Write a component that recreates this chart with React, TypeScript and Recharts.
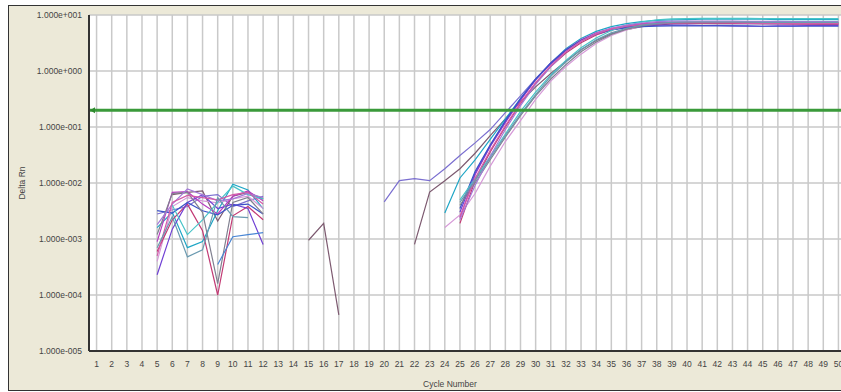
import React from 'react';
import { LineChart, Line, XAxis, YAxis, CartesianGrid, ReferenceLine } from 'recharts';

const cycles = [
  1, 2, 3, 4, 5, 6, 7, 8, 9, 10, 11, 12, 13, 14, 15, 16, 17, 18, 19, 20, 21, 22, 23, 24, 25,
  26, 27, 28, 29, 30, 31, 32, 33, 34, 35, 36, 37, 38, 39, 40, 41, 42, 43, 44, 45, 46, 47, 48, 49, 50,
];
const yTicks = [0.00001, 0.0001, 0.001, 0.01, 0.1, 1, 10];
const threshold = 0.2;

// early noise, cycles 5-12
const noiseA = [0.0028, 0.0033, 0.0038, 0.0058, 0.0062, 0.0038, 0.0048, 0.0058];
const noiseB = [null, 0.0062, 0.0068, 0.0072, 0.0021, 0.0058, 0.0068, 0.0052];
const noiseC = [0.0016, 0.003, 0.0007, 0.0009, 0.0032, 0.0095, 0.0075, 0.0035];
const noiseD = [0.0004, 0.0038, 0.0055, 0.0048, 0.0044, 0.0052, 0.0058, 0.0035];
const noiseE = [0.0006, 0.0022, 0.0042, 0.0014, 0.0001, 0.0026, 0.0038, 0.0022];
const noiseF = [0.0009, 0.0068, 0.007, 0.0042, 0.0028, 0.0058, 0.0072, 0.0048];
const noiseG = [0.00023, 0.0015, 0.0045, 0.0062, 0.0035, 0.0042, 0.0035, 0.0008];
const noiseH = [0.0032, 0.0029, 0.0045, 0.0032, 0.0027, 0.004, 0.0042, 0.0028];
const noiseI = [null, 0.004, 0.0012, 0.0022, 0.0045, 0.0088, 0.0062, 0.0052];
const noiseJ = [0.0012, 0.0065, 0.0068, 0.003, 0.00016, 0.0045, 0.0055, 0.0028];
const noiseK = [0.0018, 0.0042, 0.0078, 0.0062, 0.0048, 0.0052, 0.0065, 0.0055];
const noiseL = [0.0005, 0.0045, 0.006, 0.0055, 0.005, 0.0062, 0.0068, 0.0042];
const noiseM = [0.0007, 0.0025, 0.00048, 0.00064, 0.0055, 0.0025, 0.0024, null];
const noiseN = [null, null, null, null, 0.00035, 0.0011, 0.0012, 0.0013];

// odd fragment of well B, cycles 15-17
const fragB = [0.00095, 0.0019, 0.000044];

// amplification, well A from cycle 20, B from 22, C/D from 24, the rest from 25
const ampA = [
  0.0046, 0.011, 0.012, 0.011, 0.018, 0.031, 0.052, 0.09, 0.18, 0.36, 0.72, 1.35, 2.3, 3.4, 4.6,
  5.6, 6.3, 6.8, 7.0, 7.1, 7.1, 7.1, 7.0, 7.0, 7.0, 7.0, 6.9, 6.9, 6.9, 6.8, 6.8,
];
const ampB = [
  0.0008, 0.0069, 0.011, 0.018, 0.034, 0.07, 0.14, 0.28, 0.52, 0.9, 1.5, 2.4, 3.5, 4.6, 5.5, 6.2,
  6.6, 6.9, 7.0, 7.0, 7.0, 7.0, 7.0, 7.0, 7.0, 7.0, 6.9, 6.9, 6.9,
];
const ampC = [
  0.0029, 0.0123, 0.026, 0.06, 0.14, 0.32, 0.7, 1.4, 2.5, 3.8, 5.1, 6.2, 7.0, 7.6, 8.0, 8.2, 8.3,
  8.4, 8.4, 8.4, 8.4, 8.4, 8.3, 8.3, 8.3, 8.3, 8.3,
];
const ampD = [
  0.0016, 0.0027, 0.0065, 0.02, 0.055, 0.13, 0.31, 0.66, 1.2, 2.0, 3.1, 4.3, 5.4, 6.3, 6.9, 7.3,
  7.5, 7.5, 7.5, 7.5, 7.5, 7.4, 7.4, 7.4, 7.4, 7.3, 7.3,
];
const ampE = [
  0.0019, 0.011, 0.036, 0.1, 0.26, 0.6, 1.2, 2.1, 3.2, 4.4, 5.4, 6.1, 6.6, 6.9, 7.1, 7.2, 7.2,
  7.2, 7.1, 7.1, 7.0, 7.0, 6.9, 6.9, 6.9, 6.9,
];
const ampF = [
  0.0024, 0.014, 0.045, 0.12, 0.3, 0.7, 1.4, 2.4, 3.6, 4.8, 5.8, 6.5, 7.0, 7.3, 7.4, 7.4, 7.4,
  7.4, 7.4, 7.3, 7.3, 7.3, 7.3, 7.2, 7.2, 7.2,
];
const ampG = [
  0.003, 0.015, 0.046, 0.125, 0.31, 0.7, 1.35, 2.3, 3.5, 4.6, 5.5, 6.1, 6.5, 6.6, 6.6, 6.6, 6.5,
  6.5, 6.4, 6.3, 6.3, 6.4, 6.4, 6.5, 6.5, 6.5,
];
const ampH = [
  0.0035, 0.016, 0.048, 0.13, 0.32, 0.72, 1.4, 2.4, 3.5, 4.6, 5.4, 5.9, 6.2, 6.3, 6.4, 6.4, 6.4,
  6.4, 6.4, 6.4, 6.3, 6.3, 6.3, 6.3, 6.3, 6.3,
];
const ampI = [
  0.005, 0.012, 0.03, 0.075, 0.19, 0.42, 0.85, 1.55, 2.6, 3.9, 5.3, 6.5, 7.5, 8.2, 8.5, 8.6, 8.7,
  8.7, 8.7, 8.7, 8.6, 8.6, 8.6, 8.6, 8.6, 8.6,
];
const ampJ = [
  0.004, 0.01, 0.026, 0.066, 0.16, 0.36, 0.72, 1.3, 2.2, 3.3, 4.5, 5.6, 6.4, 6.9, 7.2, 7.3, 7.4,
  7.4, 7.4, 7.4, 7.3, 7.3, 7.3, 7.3, 7.3, 7.3,
];
const ampK = [
  0.0022, 0.009, 0.03, 0.09, 0.24, 0.58, 1.2, 2.2, 3.4, 4.7, 5.8, 6.6, 7.2, 7.6, 7.8, 7.8, 7.8,
  7.8, 7.8, 7.7, 7.7, 7.7, 7.6, 7.6, 7.6, 7.6,
];
const ampL = [
  0.0025, 0.012, 0.038, 0.105, 0.27, 0.62, 1.25, 2.2, 3.4, 4.6, 5.6, 6.3, 6.8, 7.1, 7.2, 7.2, 7.2,
  7.2, 7.2, 7.1, 7.1, 7.1, 7.0, 7.0, 7.0, 7.0,
];
const ampM = [
  0.0045, 0.011, 0.028, 0.07, 0.17, 0.38, 0.8, 1.45, 2.4, 3.6, 4.8, 5.8, 6.6, 7.1, 7.4, 7.5, 7.5,
  7.5, 7.5, 7.5, 7.4, 7.4, 7.4, 7.4, 7.4, 7.4,
];

type Part = [number, (number | null)[]];
interface Well {
  key: string;
  color: string;
  parts: Part[];
}

const wells: Well[] = [
  { key: 'A', color: '#7b6fd0', parts: [[5, noiseA], [20, ampA]] },
  { key: 'B', color: '#7d5a70', parts: [[5, noiseB], [15, fragB], [22, ampB]] },
  { key: 'C', color: '#1fa6c6', parts: [[5, noiseC], [24, ampC]] },
  { key: 'D', color: '#d69ad8', parts: [[5, noiseD], [24, ampD]] },
  { key: 'E', color: '#c23a74', parts: [[5, noiseE], [25, ampE]] },
  { key: 'F', color: '#b83cc0', parts: [[5, noiseF], [25, ampF]] },
  { key: 'G', color: '#7040d4', parts: [[5, noiseG], [25, ampG]] },
  { key: 'H', color: '#3c52c8', parts: [[5, noiseH], [25, ampH]] },
  { key: 'I', color: '#48c4c8', parts: [[5, noiseI], [25, ampI]] },
  { key: 'J', color: '#808090', parts: [[5, noiseJ], [25, ampJ]] },
  { key: 'K', color: '#a47ad8', parts: [[5, noiseK], [25, ampK]] },
  { key: 'L', color: '#d45aa8', parts: [[5, noiseL], [25, ampL]] },
  { key: 'M', color: '#6a9ab0', parts: [[5, noiseM], [25, ampM]] },
  { key: 'N', color: '#4a86d4', parts: [[5, noiseN]] },
];

const rows = cycles.map((c) => {
  const row: Record<string, number | null> = { cycle: c };
  wells.forEach((w) => {
    row[w.key] = null;
    w.parts.forEach(([start, vals]) => {
      const i = c - start;
      if (i >= 0 && i < vals.length && vals[i] != null) row[w.key] = vals[i];
    });
  });
  return row;
});

const fmtExp = (v: number) => {
  const e = Math.round(Math.log10(v));
  return `1.000e${e < 0 ? '-' : '+'}${String(Math.abs(e)).padStart(3, '0')}`;
};

const FONT = '"Liberation Sans", Arial, sans-serif';

const XTick = ({ x, y, payload }: any) => (
  <text x={x} y={y + 13} textAnchor="middle" dominantBaseline="central" fontSize={8.5} fill="#444" fontFamily={FONT}>
    {payload.value}
  </text>
);

const YTick = ({ x, y, payload }: any) => (
  <text x={x - 7} y={y} textAnchor="end" dominantBaseline="central" fontSize={8.5} fill="#444" fontFamily={FONT}>
    {fmtExp(payload.value)}
  </text>
);

const ThresholdArrow = ({ viewBox }: any) => {
  const x = viewBox.x;
  const y = viewBox.y;
  return <path d={`M${x + 1},${y} L${x + 6},${y - 3} L${x + 6},${y + 3} Z`} fill="#2f8a2f" />;
};

export default function App() {
  return (
    <div style={{ position: 'absolute', left: 0, top: 0, width: 841, height: 392, overflow: 'hidden', background: '#fff' }}>
      <div
        style={{
          position: 'absolute',
          left: 8,
          top: 5,
          width: 850,
          height: 384,
          border: '1px solid #333',
          background: '#ECE9D8',
        }}
      />
      <div style={{ position: 'absolute', left: 0, top: 0 }}>
        <LineChart width={846} height={392} data={rows} margin={{ top: 15, right: 0, bottom: 0, left: 0 }}>
          <CartesianGrid stroke="#c9c9c9" strokeWidth={1.5} fill="#ffffff" />
          <XAxis
            dataKey="cycle"
            type="number"
            domain={[0.5, 50.5]}
            ticks={cycles}
            interval={0}
            height={41}
            tickSize={0}
            tickMargin={0}
            tickLine={false}
            axisLine={{ stroke: '#333', strokeWidth: 2 }}
            tick={<XTick />}
            label={() => (
              <text x={450} y={384} textAnchor="middle" dominantBaseline="central" fontSize={8.5} fill="#444" fontFamily={FONT}>
                Cycle Number
              </text>
            )}
          />
          <YAxis
            scale="log"
            domain={[0.00001, 10]}
            ticks={yTicks}
            interval={0}
            allowDataOverflow
            width={89}
            tickSize={0}
            tickMargin={0}
            tickLine={false}
            axisLine={{ stroke: '#333', strokeWidth: 2 }}
            tick={<YTick />}
            label={() => (
              <text
                x={22}
                y={183}
                transform="rotate(-90 22 183)"
                textAnchor="middle"
                dominantBaseline="central"
                fontSize={8.5}
                fill="#444"
                fontFamily={FONT}
              >
                Delta Rn
              </text>
            )}
          />
          {wells.map((w) => (
            <Line
              key={w.key}
              dataKey={w.key}
              stroke={w.color}
              strokeWidth={1.2}
              dot={false}
              activeDot={false}
              connectNulls={false}
              isAnimationActive={false}
            />
          ))}
          <ReferenceLine y={threshold} stroke="#3a9a3a" strokeWidth={3} label={<ThresholdArrow />} />
        </LineChart>
      </div>
    </div>
  );
}
